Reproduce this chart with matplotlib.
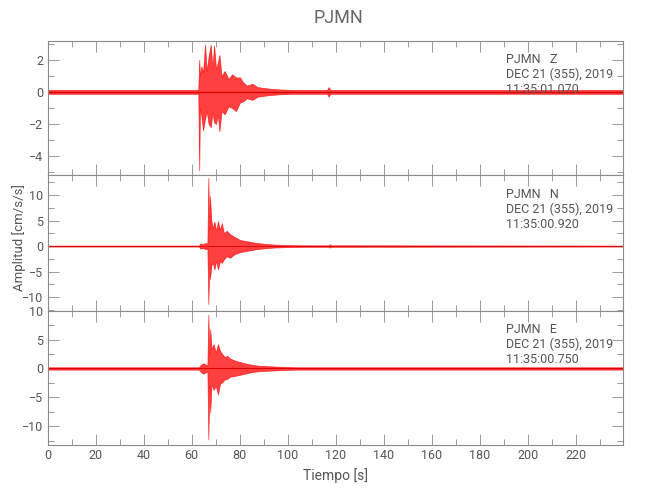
import matplotlib
matplotlib.use("Agg")
import matplotlib.pyplot as plt
from matplotlib.ticker import MultipleLocator

plt.rcParams['font.family'] = ['Roboto', 'DejaVu Sans']

# envelope of each trace (time [s], upper and lower amplitude [cm/s/s])
t_z = [0, 62.7, 63.1, 63.4, 64.0, 64.7, 65.5, 66.2, 67.0, 67.9, 68.6, 69.3, 70.1, 70.8, 71.5,
       72.4, 73.7, 75.3, 76.8, 78.4, 80.1, 81.3, 82.9, 85.3, 87.3, 89.7, 92.4, 96.7, 102.4,
       116.3, 117.0, 117.7, 240]
up_z = [.12, .12, 2.0, 1.0, 1.6, 1.2, 2.94, 1.3, 2.2, 2.94, 1.5, 2.9, 1.4, 1.8, 2.3,
        1.0, 1.3, .8, 1.1, .9, .9, .6, .4, .5, .3, .25, .2, .15, .12,
        .12, .3, .12, .12]
lo_z = [-.12, -.12, -4.9, -1.0, -1.5, -2.4, -1.7, -1.2, -2.0, -2.2, -1.3, -1.9, -2.0, -1.4, -2.45,
        -1.2, -1.4, -.9, -1.0, -1.2, -.65, -.6, -.4, -.5, -.3, -.25, -.2, -.15, -.12,
        -.12, -.3, -.12, -.12]

t_n = [0, 63.0, 63.5, 64.7, 65.7, 66.5, 66.9, 67.3, 67.6, 68.1, 68.7, 69.4, 70.2, 70.9, 71.7,
       72.5, 73.4, 74.5, 76.0, 77.8, 80.1, 82.3, 84.8, 87.0, 90.3, 94.0, 99.4, 107.5,
       117.0, 117.5, 118.0, 240]
up_n = [.1, .1, .5, .4, .6, .5, 13.4, 3.0, 9.8, 5.2, 3.5, 4.8, 3.0, 4.9, 3.2,
        4.5, 2.5, 3.0, 2.3, 1.8, 1.2, 1.0, .8, .6, .45, .3, .2, .15,
        .15, .35, .15, .1]
lo_n = [-.1, -.1, -.5, -.4, -.6, -.5, -11.4, -3.0, -6.5, -3.9, -3.2, -4.6, -2.8, -4.6, -3.0,
        -3.3, -2.6, -2.0, -2.3, -1.6, -1.2, -1.0, -.8, -.6, -.45, -.3, -.2, -.15,
        -.15, -.3, -.15, -.1]

t_e = [0, 63.0, 63.7, 64.7, 65.7, 66.5, 66.9, 67.3, 67.7, 68.2, 69.1, 70.0, 70.9, 71.8,
       72.7, 73.7, 74.8, 76.0, 77.8, 80.1, 82.1, 84.2, 87.3, 91.3, 96.8, 103.4, 240]
up_e = [.2, .2, .6, .9, .7, .6, 9.3, 2.5, 6.8, 3.4, 4.2, 2.8, 4.2, 3.0,
        2.5, 2.0, 2.2, 1.7, 1.4, 1.1, .9, .7, .5, .4, .3, .2, .2]
lo_e = [-.2, -.2, -.6, -.9, -.7, -.6, -12.3, -3.0, -7.6, -2.8, -3.7, -3.0, -4.5, -2.6,
        -2.4, -1.9, -1.8, -1.4, -1.3, -1.1, -.9, -.7, -.5, -.4, -.3, -.2, -.2]

comps = ['Z', 'N', 'E']
start_times = ['11:35:01.070', '11:35:00.920', '11:35:00.750']
ylims = [(-5.2, 3.19), (-12.7, 13.9), (-13.3, 10.0)]
ymajor = [2, 5, 5]
yminor = [1, 2.5, 2.5]
base_lw = [1.0, 0.6, 0.8]
traces = [(t_z, up_z, lo_z), (t_n, up_n, lo_n), (t_e, up_e, lo_e)]

grey = '#8a8a8a'
tcol = '#555555'
fig = plt.figure(figsize=(6.5, 5), dpi=100)
bottoms = [0.6494, 0.3786, 0.1094]
heights = [0.2692, 0.2708, 0.2692]

for i in range(3):
    ax = fig.add_axes([0.0734, bottoms[i], 0.8855, heights[i]])
    t, up, lo = traces[i]
    ax.fill_between(t, lo, up, color='#ff0000', lw=0.5, alpha=0.75)
    ax.plot([0, 240], [0, 0], color='#dd0000', lw=base_lw[i])
    ax.set_xlim(0, 239.7)
    ax.set_ylim(*ylims[i])
    ax.xaxis.set_major_locator(MultipleLocator(20))
    ax.xaxis.set_minor_locator(MultipleLocator(10))
    ax.yaxis.set_major_locator(MultipleLocator(ymajor[i]))
    ax.yaxis.set_minor_locator(MultipleLocator(yminor[i]))
    ax.tick_params(which='both', direction='in', top=True, right=True,
                   color=grey, labelcolor=tcol, labelsize=9, pad=3)
    ax.tick_params(which='major', length=8, width=0.6)
    ax.tick_params(which='minor', length=4, width=0.6)
    for s in ax.spines.values():
        s.set_color(grey)
        s.set_linewidth(0.8)
    if i < 2:
        ax.set_xticklabels([])
    else:
        ax.set_xlabel('Tiempo [s]', color=tcol, fontsize=10, labelpad=4)
    ax.text(0.797, 0.86, 'PJMN   ' + comps[i], transform=ax.transAxes,
            color=tcol, fontsize=9, va='center')
    ax.text(0.797, 0.75, 'DEC 21 (355), 2019', transform=ax.transAxes,
            color=tcol, fontsize=9, va='center')
    ax.text(0.797, 0.64, start_times[i], transform=ax.transAxes,
            color=tcol, fontsize=9, va='center')

fig.text(0.029, 0.525, 'Amplitud [cm/s/s]', rotation=90, ha='center', va='center',
         color=tcol, fontsize=9.5)
fig.text(0.52, 0.964, 'PJMN', ha='center', va='center', color='#666666', fontsize=13)
fig.savefig('out.png', dpi=100)
